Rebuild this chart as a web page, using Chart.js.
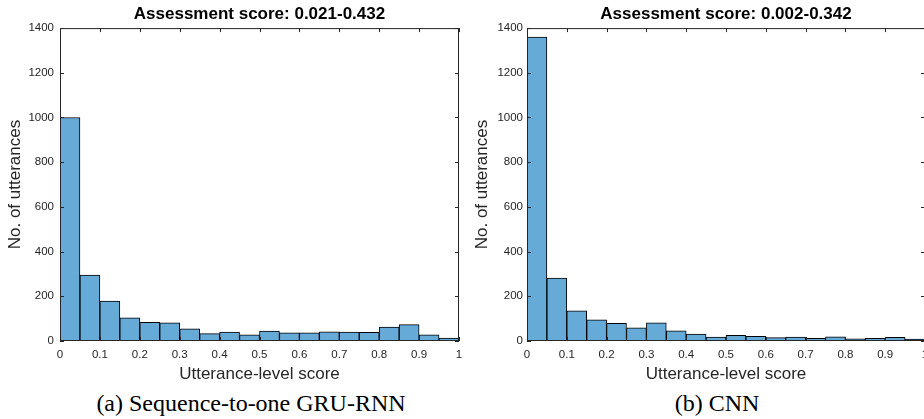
<!DOCTYPE html>
<html>
<head>
<meta charset="utf-8">
<script src="https://cdn.jsdelivr.net/npm/chart.js@4/dist/chart.umd.min.js"></script>
<style>
  html, body { margin: 0; padding: 0; background: #fff; overflow: hidden; }
  body { width: 924px; height: 419px; position: relative; }
  .panel { position: absolute; top: 0; height: 389px; }
  .caption { position: absolute; top: 391px; width: 400px; text-align: center;
             font-family: "Liberation Serif", serif; font-size: 24px; line-height: 24px; color: #000; }
</style>
</head>
<body>
<div class="panel" style="left:0; width:462px;"><canvas id="rnn"></canvas></div>
<div class="panel" style="left:467px; width:461px;"><canvas id="cnn"></canvas></div>
<div class="caption" style="left:51px;">(a) Sequence-to-one GRU-RNN</div>
<div class="caption" style="left:517px;">(b) CNN</div>
<script>
// histogram bins (start of each 0.05 wide bin)
const bins = ['0', '0.05', '0.1', '0.15', '0.2', '0.25', '0.3', '0.35', '0.4', '0.45',
              '0.5', '0.55', '0.6', '0.65', '0.7', '0.75', '0.8', '0.85', '0.9', '0.95'];

const rnnCounts = [1000, 295, 179, 104, 84, 81, 55, 33, 40, 28,
                   44, 36, 37, 41, 40, 39, 62, 73, 28, 13];
const cnnCounts = [1360, 281, 135, 95, 79, 59, 81, 46, 31, 18,
                   25, 21, 15, 18, 12, 19, 10, 12, 16, 9];

const xTickValues = [0, 0.1, 0.2, 0.3, 0.4, 0.5, 0.6, 0.7, 0.8, 0.9, 1];
const xTickLabels = ['0', '0.1', '0.2', '0.3', '0.4', '0.5', '0.6', '0.7', '0.8', '0.9', '1'];
const yTickValues = [0, 200, 400, 600, 800, 1000, 1200, 1400];
const yTickLabels = ['0', '200', '400', '600', '800', '1000', '1200', '1400'];

const axisColor = '#262626';
const barColor = 'rgb(102,170,215)';

// matlab style box with inward ticks
const boxPlugin = {
  id: 'box',
  afterDraw(chart) {
    const ctx = chart.ctx, a = chart.chartArea;
    const xs = chart.scales.x2, ys = chart.scales.y;
    const len = 4;
    ctx.save();
    ctx.strokeStyle = axisColor;
    ctx.lineWidth = 1;
    ctx.strokeRect(a.left + 0.5, a.top + 0.5, a.right - a.left - 1, a.bottom - a.top - 1);
    ctx.beginPath();
    xTickValues.forEach(v => {
      const px = Math.round(xs.getPixelForValue(v)) + 0.5;
      ctx.moveTo(px, a.bottom); ctx.lineTo(px, a.bottom - len);
      ctx.moveTo(px, a.top); ctx.lineTo(px, a.top + len);
    });
    yTickValues.forEach(v => {
      const py = Math.round(ys.getPixelForValue(v)) + 0.5;
      ctx.moveTo(a.left, py); ctx.lineTo(a.left + len, py);
      ctx.moveTo(a.right, py); ctx.lineTo(a.right - len, py);
    });
    ctx.stroke();
    ctx.restore();
  }
};

function renderHist(id, titleText, counts, yPad) {
  new Chart(document.getElementById(id), {
    type: 'bar',
    data: {
      labels: bins,
      datasets: [{
        data: counts,
        backgroundColor: barColor,
        borderColor: '#000',
        borderWidth: 1,
        barPercentage: 1,
        categoryPercentage: 1
      }]
    },
    options: {
      responsive: true,
      maintainAspectRatio: false,
      animation: false,
      layout: { padding: 0 },
      plugins: {
        legend: { display: false },
        tooltip: { enabled: false },
        title: {
          display: true,
          text: titleText,
          fullSize: false,
          color: '#000',
          font: { family: 'Liberation Sans', size: 17, weight: 'bold', lineHeight: 1.2 },
          padding: { top: 4.5, bottom: 3.2 }
        }
      },
      scales: {
        x: { display: false },
        x2: {
          type: 'linear',
          position: 'bottom',
          offset: false,
          min: 0,
          max: 1,
          grid: { display: false, drawTicks: false, offset: false },
          border: { display: false },
          afterBuildTicks: s => { s.ticks = xTickValues.map(v => ({ value: v })); },
          afterFit: s => { s.height = 48; s.paddingLeft = 0; s.paddingRight = 3; },
          ticks: {
            color: axisColor,
            padding: 7,
            maxRotation: 0,
            autoSkip: false,
            font: { family: 'Liberation Sans', size: 11.5 },
            callback: (v, i) => xTickLabels[i]
          },
          title: {
            display: true,
            text: 'Utterance-level score',
            color: axisColor,
            font: { family: 'Liberation Sans', size: 17, lineHeight: 1.2 },
            padding: { top: 0, bottom: 4 }
          }
        },
        y: {
          min: 0,
          max: 1400,
          grid: { display: false, drawTicks: false },
          border: { display: false },
          afterBuildTicks: s => { s.ticks = yTickValues.map(v => ({ value: v })); },
          afterFit: s => { s.width = 60; },
          ticks: {
            color: axisColor,
            padding: yPad,
            font: { family: 'Liberation Sans', size: 11.5 },
            callback: (v, i) => yTickLabels[i]
          },
          title: {
            display: true,
            text: 'No. of utterances',
            color: axisColor,
            font: { family: 'Liberation Sans', size: 17, lineHeight: 1.2 },
            padding: { top: 5, bottom: 0 }
          }
        }
      }
    },
    plugins: [boxPlugin]
  });
}

renderHist('rnn', 'Assessment score: 0.021-0.432', rnnCounts, 6);
renderHist('cnn', 'Assessment score: 0.002-0.342', cnnCounts, 4);
</script>
</body>
</html>
